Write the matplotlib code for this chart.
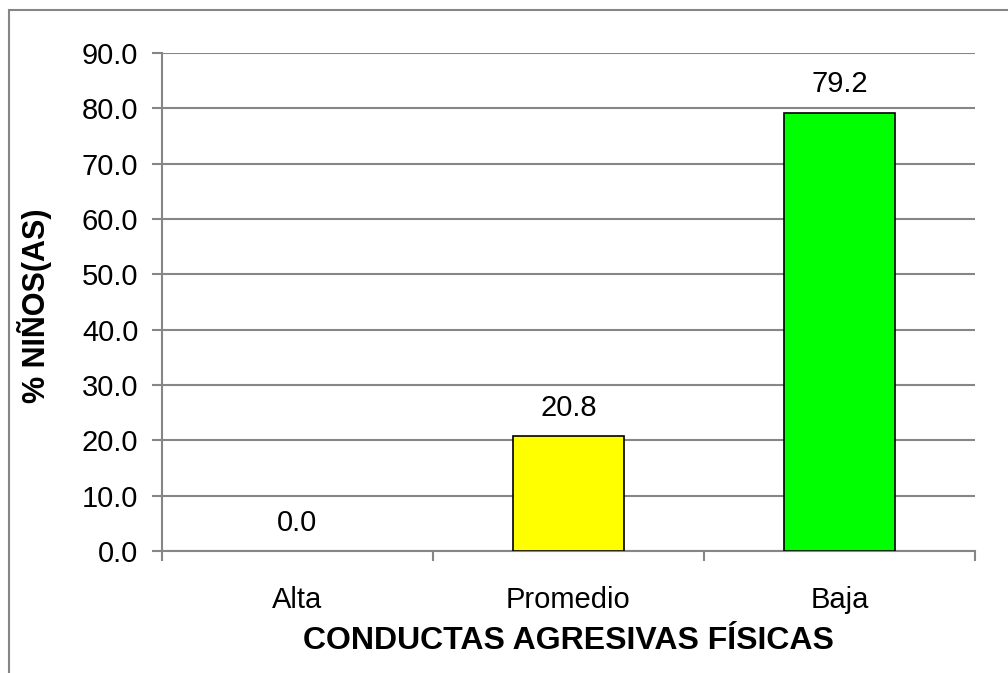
import matplotlib
matplotlib.use("Agg")
import matplotlib.pyplot as plt
from matplotlib.patches import Rectangle

categories = ["Alta", "Promedio", "Baja"]
values = [0.0, 20.8, 79.2]
colors = ["#FFFF00", "#FFFF00", "#00FF00"]
yticks = [0, 10, 20, 30, 40, 50, 60, 70, 80, 90]

plt.rcParams['font.family'] = ['Liberation Sans', 'DejaVu Sans']

W, H = 1008, 673
fig = plt.figure(figsize=(W/100, H/100), dpi=100)
ax = fig.add_axes([162/W, 1-551/H, (975-162)/W, (551-53)/H])

fig.patches.append(Rectangle((9/W, -0.1), 1.2, 1-10/H+0.1, transform=fig.transFigure,
                             fill=False, edgecolor="#868686", linewidth=1.5))

x = list(range(len(categories)))
lws = [1.2 if v > 0 else 0 for v in values]
ax.bar(x, values, width=0.406, color=colors, edgecolor="black", linewidth=lws, zorder=3)
for xi, v in zip(x, values):
    ax.text(xi, v + 2.6, f"{v:.1f}", ha="center", va="bottom", fontsize=21)

ax.set_xlim(-0.5, 2.5)
ax.set_ylim(0, 90)
ax.set_yticks(yticks)
ax.set_yticklabels([f"{t:.1f}" for t in yticks], fontsize=21)
ax.yaxis.grid(True, color="#868686", linewidth=1.5, zorder=0)
ax.set_axisbelow(True)

ax.set_xticks([-0.5, 0.5, 1.5, 2.5])
ax.set_xticklabels([])
ax.set_xticks(x, minor=True)
ax.set_xticklabels(categories, minor=True, fontsize=21)
ax.tick_params(axis="x", which="minor", length=0, pad=25)
ax.tick_params(axis="x", which="major", length=7, color="#868686", width=1.5)
ax.tick_params(axis="y", length=7, color="#868686", width=1.5, pad=10)

for s in ["top", "right"]:
    ax.spines[s].set_visible(False)
ax.spines["left"].set_color("#868686")
ax.spines["left"].set_linewidth(1.5)
ax.spines["bottom"].set_color("#868686")
ax.spines["bottom"].set_linewidth(1.5)

fig.text(568/W, 1-641/H, "CONDUCTAS AGRESIVAS FÍSICAS", ha="center", va="center",
         fontsize=23, fontweight="bold")
fig.text(35/W, 1-306/H, "% NIÑOS(AS)", ha="center", va="center", rotation=90,
         fontsize=22, fontweight="bold")

fig.savefig("out.png", dpi=100)
